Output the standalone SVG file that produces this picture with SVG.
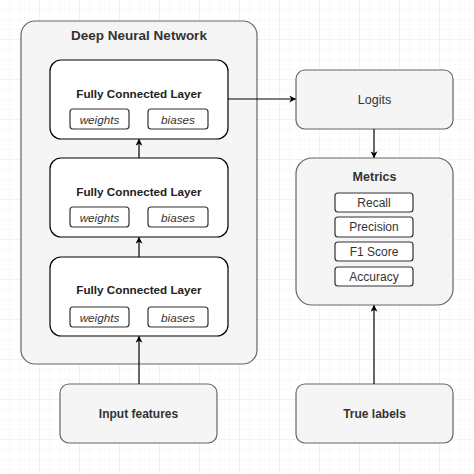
<svg xmlns="http://www.w3.org/2000/svg" width="474" height="474" viewBox="0 0 474 474">
<defs>
<pattern id="minor" width="10" height="10" patternUnits="userSpaceOnUse">
<path d="M10 0 V10 M0 10 H10" fill="none" stroke="#f3f3f3" stroke-width="1"/>
</pattern>
<pattern id="major" width="40" height="40" patternUnits="userSpaceOnUse">
<rect width="40" height="40" fill="url(#minor)"/>
<path d="M40 0 V40 M0 40 H40" fill="none" stroke="#ebebeb" stroke-width="1"/>
</pattern>
<marker id="arr" viewBox="0 0 10 10" refX="9" refY="5" markerWidth="7" markerHeight="7" orient="auto" markerUnits="userSpaceOnUse">
<path d="M0 0 L10 5 L0 10 L3 5 Z" fill="#000"/>
</marker>
</defs>
<style>
.outer{fill:#f5f5f5;stroke:#666;stroke-width:1.2}
.layer{fill:#fff;stroke:#000;stroke-width:1.2}
.small{fill:#fff;stroke:#333;stroke-width:1.2}
text{font-family:"Liberation Sans",Arial,sans-serif;fill:#333;text-anchor:middle;dominant-baseline:central}
.b{font-weight:bold}
.title{font-size:13.5px;font-weight:bold}
.lt{font-size:11.7px;font-weight:bold;fill:#222}
.it{font-size:11.7px;font-style:italic}
.reg{font-size:12px}
.con{stroke:#000;stroke-width:1.2;fill:none}
</style>
<rect width="474" height="474" fill="#fff"/>
<rect width="474" height="474" fill="url(#major)"/>

<g id="dnn">
<rect class="outer" x="21" y="21" width="236" height="343" rx="14"/>
<text class="title" x="139" y="35">Deep Neural Network</text>
</g>
<g id="fc1">
<rect class="layer" x="50" y="60" width="178" height="79" rx="11"/>
<text class="lt" x="139" y="93">Fully Connected Layer</text>
<rect class="small" x="70" y="109" width="59" height="20" rx="3"/>
<text class="it" x="99.5" y="119">weights</text>
<rect class="small" x="148" y="109" width="60" height="20" rx="3"/>
<text class="it" x="178" y="119">biases</text>
</g>
<g id="fc2">
<rect class="layer" x="50" y="158" width="178" height="79" rx="11"/>
<text class="lt" x="139" y="191">Fully Connected Layer</text>
<rect class="small" x="70" y="207" width="59" height="20" rx="3"/>
<text class="it" x="99.5" y="217">weights</text>
<rect class="small" x="148" y="207" width="60" height="20" rx="3"/>
<text class="it" x="178" y="217">biases</text>
</g>
<g id="fc3">
<rect class="layer" x="50" y="257" width="178" height="79" rx="11"/>
<text class="lt" x="139" y="289">Fully Connected Layer</text>
<rect class="small" x="70" y="307" width="59" height="20" rx="3"/>
<text class="it" x="99.5" y="317">weights</text>
<rect class="small" x="148" y="307" width="60" height="20" rx="3"/>
<text class="it" x="178" y="317">biases</text>
</g>
<g id="input">
<rect class="outer" x="60" y="384" width="157" height="59" rx="9"/>
<text class="reg b" x="138.5" y="414">Input features</text>
</g>
<g id="logits">
<rect class="outer" x="296" y="70" width="157" height="59" rx="9"/>
<text class="reg" x="374.5" y="100" style="font-size:12.5px">Logits</text>
</g>
<g id="metrics">
<rect class="outer" x="296" y="158" width="157" height="147" rx="16"/>
<text class="reg b" x="374.5" y="177" style="font-size:12.5px">Metrics</text>
<rect class="small" x="335" y="193" width="78" height="19" rx="3"/>
<text class="reg" x="374" y="202.5">Recall</text>
<rect class="small" x="335" y="217" width="78" height="20" rx="3"/>
<text class="reg" x="374" y="227">Precision</text>
<rect class="small" x="335" y="242" width="78" height="19" rx="3"/>
<text class="reg" x="374" y="251.5">F1 Score</text>
<rect class="small" x="335" y="267" width="78" height="19" rx="3"/>
<text class="reg" x="374" y="276.5">Accuracy</text>
</g>
<g id="truelabels">
<rect class="outer" x="296" y="384" width="157" height="59" rx="9"/>
<text class="reg b" x="374.5" y="414">True labels</text>
</g>

<g id="connectors">
<path class="con" d="M139 384 V336.5" marker-end="url(#arr)"/>
<path class="con" d="M139 257 V237.5" marker-end="url(#arr)"/>
<path class="con" d="M139 158 V139.5" marker-end="url(#arr)"/>
<path class="con" d="M228 99 H295.5" marker-end="url(#arr)"/>
<path class="con" d="M374 129 V157.5" marker-end="url(#arr)"/>
<path class="con" d="M374 384 V305.5" marker-end="url(#arr)"/>
</g>
</svg>
